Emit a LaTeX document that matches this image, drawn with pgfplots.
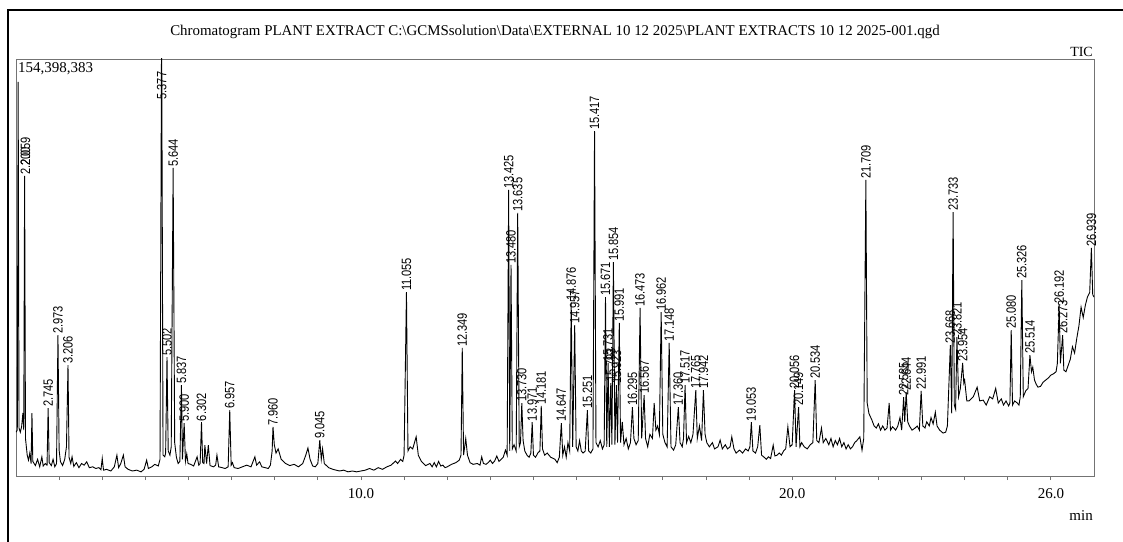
\documentclass[border=0pt]{standalone}
\usepackage{pgfplots}
\pgfplotsset{compat=1.18}
\usepackage{pgfplotstable}
\usepackage{fontspec}
\setmainfont{Liberation Serif}
\newfontfamily\peakfont[FakeStretch=0.82]{Liberation Sans}

\pgfplotstableread{
t v
2.00 10.5
2.03 11.0
2.05 94.5
2.07 11.5
2.10 10.5
2.13 11.8
2.16 15.1
2.18 11.0
2.20 72.0
2.22 9.0
2.26 5.0
2.29 3.8
2.32 5.5
2.35 3.0
2.37 15.1
2.39 3.5
2.45 2.5
2.50 4.0
2.55 2.2
2.60 4.6
2.63 2.4
2.68 3.0
2.72 2.6
2.745 16.3
2.77 3.2
2.82 2.5
2.86 4.0
2.90 2.2
2.94 3.0
2.973 33.8
3.00 6.2
3.03 3.5
3.08 2.5
3.13 4.0
3.17 7.0
3.206 26.6
3.23 4.5
3.27 3.0
3.30 4.6
3.34 2.3
3.40 3.2
3.46 2.0
3.52 3.0
3.58 2.6
3.64 3.4
3.70 2.0
3.78 2.2
3.85 1.8
3.92 2.0
3.97 1.5
4.00 4.2
4.03 1.4
4.10 1.6
4.20 1.2
4.28 2.2
4.34 5.0
4.38 2.0
4.43 3.0
4.49 5.0
4.53 2.2
4.60 1.6
4.70 1.2
4.80 1.4
4.90 1.0
4.97 1.6
5.03 3.8
5.07 1.8
5.15 2.2
5.22 2.8
5.30 2.4
5.34 4.0
5.377 110
5.41 5.0
5.45 4.6
5.47 5.5
5.502 28.5
5.53 6.0
5.57 5.0
5.60 7.0
5.644 73.9
5.68 8.0
5.72 4.5
5.76 3.0
5.80 3.5
5.837 21.8
5.86 4.0
5.900 12.7
5.93 3.5
5.96 5.3
5.99 3.0
6.05 2.8
6.12 2.4
6.20 4.6
6.24 2.6
6.27 3.0
6.302 12.9
6.33 3.2
6.36 3.0
6.38 7.4
6.42 3.0
6.46 7.4
6.50 2.5
6.58 2.2
6.63 2.6
6.66 5.0
6.70 2.2
6.78 2.0
6.85 1.8
6.92 2.2
6.957 15.8
6.99 2.6
7.02 3.2
7.06 2.0
7.15 1.8
7.25 2.2
7.35 2.6
7.45 2.2
7.54 4.6
7.58 2.6
7.65 3.4
7.70 2.2
7.78 2.0
7.85 1.8
7.90 2.6
7.94 6.0
7.960 11.8
7.99 7.5
8.03 5.5
8.08 6.5
8.15 4.0
8.25 3.0
8.35 2.5
8.45 2.8
8.55 2.2
8.65 3.0
8.72 5.0
8.77 6.7
8.82 4.0
8.88 2.4
8.94 2.2
9.00 3.0
9.045 8.6
9.08 4.0
9.11 6.5
9.15 3.0
9.25 2.0
9.35 1.6
9.50 1.2
9.60 1.4
9.70 1.0
9.80 1.2
9.90 1.0
10.00 1.2
10.10 1.4
10.20 1.8
10.30 1.4
10.40 2.0
10.50 1.6
10.60 2.2
10.70 2.6
10.80 3.6
10.85 3.0
10.92 4.0
10.97 3.5
11.00 5.0
11.055 44.1
11.09 6.0
11.14 7.0
11.20 6.5
11.28 9.4
11.33 5.0
11.40 3.5
11.50 2.5
11.60 3.0
11.65 2.2
11.70 3.2
11.75 2.2
11.80 3.5
11.85 2.4
11.90 2.6
11.95 2.0
12.00 2.2
12.10 2.8
12.20 3.2
12.28 3.8
12.32 5.0
12.349 30.7
12.38 5.0
12.43 9.0
12.47 5.0
12.53 3.2
12.60 2.8
12.70 3.0
12.76 2.6
12.80 4.6
12.84 3.0
12.90 2.8
12.95 3.2
13.00 3.8
13.05 3.0
13.10 3.6
13.15 4.8
13.20 3.5
13.30 4.5
13.35 6.2
13.39 5.0
13.425 68.6
13.45 6.0
13.480 50.6
13.51 6.5
13.55 7.5
13.60 6.0
13.635 63.1
13.67 7.0
13.70 8.0
13.730 17.5
13.76 8.5
13.80 6.0
13.85 5.0
13.90 4.5
13.94 5.5
13.971 12.9
14.00 5.0
14.05 4.5
14.10 5.5
14.15 6.0
14.181 16.8
14.21 6.5
14.26 5.0
14.32 5.5
14.40 4.5
14.50 4.0
14.55 3.2
14.60 4.5
14.647 12.7
14.68 5.0
14.72 7.0
14.76 4.5
14.80 8.0
14.84 6.0
14.876 41.7
14.91 7.0
14.957 36.2
14.99 7.0
15.03 6.0
15.07 8.5
15.11 6.0
15.15 5.5
15.20 6.0
15.251 15.8
15.28 6.0
15.33 5.5
15.38 6.5
15.417 82.7
15.45 8.0
15.50 7.0
15.55 8.5
15.60 6.5
15.64 7.5
15.671 42.9
15.70 7.0
15.731 27.1
15.76 7.0
15.793 22.3
15.82 7.5
15.854 51.3
15.89 7.5
15.923 21.8
15.95 8.0
15.991 36.7
16.02 8.0
16.06 13.0
16.10 7.5
16.15 9.0
16.20 6.5
16.25 8.0
16.295 16.5
16.33 9.0
16.38 7.5
16.43 8.5
16.473 40.3
16.51 9.0
16.567 19.4
16.60 9.0
16.65 7.0
16.70 10.0
16.76 9.0
16.80 17.5
16.84 11.0
16.88 12.0
16.92 10.0
16.962 39.3
17.00 10.0
17.05 8.0
17.10 7.0
17.148 31.9
17.19 7.0
17.25 6.2
17.30 7.5
17.360 16.5
17.40 8.0
17.45 7.0
17.48 9.0
17.517 21.8
17.55 8.0
17.60 9.5
17.65 8.0
17.70 10.0
17.765 20.6
17.80 9.0
17.85 12.0
17.90 8.5
17.942 20.6
17.98 10.0
18.02 8.0
18.08 7.0
18.15 8.0
18.20 6.5
18.28 7.0
18.33 8.6
18.38 6.5
18.45 7.5
18.50 6.5
18.56 7.0
18.60 9.4
18.65 6.5
18.70 5.5
18.78 6.2
18.85 5.5
18.92 6.5
18.98 6.0
19.02 7.0
19.053 12.9
19.09 6.0
19.15 5.5
19.20 7.0
19.25 12.2
19.29 5.0
19.35 4.5
19.40 4.0
19.45 4.6
19.50 4.2
19.56 7.4
19.60 4.8
19.65 5.0
19.70 5.5
19.75 5.0
19.80 6.0
19.85 6.5
19.90 11.8
19.95 7.0
20.00 7.5
20.056 20.6
20.09 7.0
20.149 16.5
20.18 7.0
20.22 8.0
20.28 7.0
20.35 6.5
20.42 7.5
20.48 8.0
20.534 23.0
20.57 8.5
20.62 8.0
20.68 11.5
20.72 8.0
20.78 9.0
20.85 7.5
20.90 9.0
20.95 7.0
21.00 8.5
21.05 7.5
21.10 9.0
21.15 7.0
21.20 8.0
21.25 6.5
21.30 7.5
21.35 6.5
21.40 7.0
21.45 8.0
21.50 8.5
21.57 9.4
21.62 6.2
21.66 9.0
21.709 71.0
21.74 17.5
21.78 15.0
21.85 13.4
21.90 12.0
21.95 11.5
22.00 12.5
22.05 11.0
22.10 12.0
22.15 11.0
22.20 11.5
22.25 17.5
22.28 11.0
22.33 11.8
22.40 11.0
22.45 12.0
22.50 14.0
22.54 11.0
22.585 18.9
22.61 13.0
22.644 20.1
22.68 13.0
22.72 12.0
22.78 11.0
22.85 11.5
22.90 12.0
22.95 11.0
22.991 20.4
23.03 12.0
23.08 11.5
23.12 13.0
23.18 12.0
23.22 14.0
23.27 12.5
23.32 15.3
23.36 12.0
23.42 11.0
23.50 10.3
23.56 10.5
23.60 12.0
23.668 31.4
23.70 15.0
23.733 63.3
23.76 17.0
23.79 16.0
23.821 33.3
23.86 19.0
23.90 21.0
23.954 27.1
23.98 22.3
24.00 23.0
24.05 18.0
24.10 18.0
24.20 19.0
24.29 21.3
24.35 18.0
24.43 18.2
24.50 17.0
24.58 19.0
24.65 18.5
24.72 21.0
24.78 17.5
24.85 18.5
24.90 17.0
24.96 18.0
25.02 16.8
25.05 17.5
25.080 35.0
25.11 17.0
25.16 18.0
25.22 17.5
25.26 17.0
25.29 19.0
25.326 47.0
25.36 19.0
25.42 20.5
25.47 21.0
25.514 29.0
25.55 25.0
25.58 26.1
25.62 23.0
25.66 22.0
25.70 21.3
25.76 21.5
25.82 22.5
25.88 23.0
25.94 23.5
26.00 24.2
26.06 24.5
26.12 25.0
26.15 27.0
26.192 41.0
26.22 27.0
26.273 33.8
26.30 25.4
26.35 25.0
26.40 26.5
26.45 28.0
26.50 31.0
26.55 29.5
26.60 33.0
26.65 36.0
26.70 40.5
26.75 38.0
26.80 41.0
26.85 43.0
26.90 44.0
26.939 54.7
26.97 43.5
27.00 42.9
}\trace

\pgfplotstableread{
t v label
2.22 72.0 2.200
2.22 74.2 2.059
2.745 16.3 2.745
2.973 33.8 2.973
3.206 26.6 3.206
5.377 90.0 5.377
5.502 28.5 5.502
5.644 73.9 5.644
5.837 21.8 5.837
5.900 12.7 5.900
6.302 12.9 6.302
6.957 15.8 6.957
7.960 11.8 7.960
9.045 8.6 9.045
11.055 44.1 11.055
12.349 30.7 12.349
13.425 68.6 13.425
13.480 50.6 13.480
13.635 63.1 13.635
13.730 17.5 13.730
13.971 12.9 13.971
14.181 16.8 14.181
14.647 12.7 14.647
14.876 41.7 14.876
14.957 36.2 14.957
15.251 15.8 15.251
15.417 82.7 15.417
15.671 42.9 15.671
15.731 27.1 15.731
15.793 22.3 15.793
15.923 21.8 15.923
15.854 51.3 15.854
15.991 36.7 15.991
16.295 16.5 16.295
16.473 40.3 16.473
16.567 19.4 16.567
16.962 39.3 16.962
17.148 31.9 17.148
17.360 16.5 17.360
17.517 21.8 17.517
17.765 20.6 17.765
17.942 20.6 17.942
19.053 12.9 19.053
20.056 20.6 20.056
20.149 16.5 20.149
20.534 23.0 20.534
21.709 71.0 21.709
22.585 18.9 22.585
22.644 20.1 22.644
22.991 20.4 22.991
23.668 31.4 23.668
23.733 63.3 23.733
23.821 33.3 23.821
23.954 27.1 23.954
25.080 35.0 25.080
25.326 47.0 25.326
25.514 29.0 25.514
26.192 41.0 26.192
26.273 33.8 26.273
26.939 54.7 26.939
}\peaks

\begin{document}
\begin{tikzpicture}
\useasboundingbox (0,0) rectangle (1123pt,541pt);
\draw[line width=2pt] (8pt,-10pt) -- (8pt,531pt) -- (1135pt,531pt);
\node[font=\fontsize{14.9}{17}\selectfont, inner sep=0pt] at (555pt,509pt) {Chromatogram PLANT EXTRACT C:\textbackslash GCMSsolution\textbackslash Data\textbackslash EXTERNAL 10 12 2025\textbackslash PLANT EXTRACTS 10 12 2025-001.qgd};
\begin{axis}[
  at={(16pt,65pt)}, anchor=south west,
  width=1078pt, height=417pt, scale only axis,
  xmin=2, xmax=27, ymin=0, ymax=100,
  axis line style={draw=black!55, line width=0.8pt},
  ytick=\empty,
  xtick={3,...,26},
  xticklabels={,,,,,,,10.0,,,,,,,,,,20.0,,,,,,26.0},
  tick align=outside, major tick length=4pt,
  xtick pos=bottom,
  xtick style={draw=black!55, line width=0.8pt},
  xticklabel style={font=\fontsize{15}{18}\selectfont, yshift=-5pt},
  clip=true,
]
\addplot[black, line width=0.9pt, mark=none] table[x=t,y=v] {\trace};
\addplot[draw=none, mark=none, nodes near coords, point meta=explicit symbolic,
  nodes near coords style={rotate=90, anchor=west, inner sep=1pt, font=\peakfont\fontsize{13.5}{15}\selectfont}]
  table[x=t,y=v,meta=label] {\peaks};
\end{axis}
\node[anchor=north west, inner sep=1pt, font=\fontsize{15}{18}\selectfont] at (17pt,480pt) {154,398,383};
\node[anchor=south east, inner sep=1pt, font=\fontsize{14}{16}\selectfont] at (1094pt,483pt) {TIC};
\node[anchor=east, inner sep=1pt, font=\fontsize{15}{18}\selectfont] at (1094pt,25pt) {min};
\end{tikzpicture}
\end{document}
